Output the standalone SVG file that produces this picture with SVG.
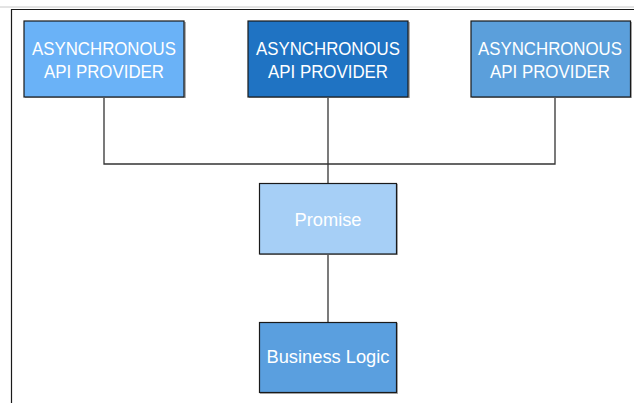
<svg xmlns="http://www.w3.org/2000/svg" width="634" height="403" viewBox="0 0 634 403">
<style>
.box{stroke:#1a1a1a;stroke-width:1.2}
.shadow{fill:#b0b0b0}
.t{font-family:"Liberation Sans",Arial,sans-serif;font-size:18px;fill:#ffffff;text-anchor:middle}
.c{stroke:#333333;stroke-width:1.3;fill:none}
</style>
<rect x="0" y="0" width="634" height="403" fill="#ffffff"/>
<line x1="0" y1="7" x2="634" y2="7" stroke="#c8c8c8" stroke-width="1"/>
<path d="M11.5 403 V9.5 H634" fill="none" stroke="#1a1a1a" stroke-width="1.2"/>
<g id="connectors">
<path class="c" d="M104 97 V164 H555 V97"/>
<path class="c" d="M328 97 V183"/>
<path class="c" d="M328 254 V322"/>
</g>
<g id="provider1">
<rect class="shadow" x="25" y="22" width="161" height="76"/>
<rect class="box" x="24" y="21" width="160" height="76" fill="#6AB2F7"/>
<text class="t" x="104" y="55" textLength="144" lengthAdjust="spacingAndGlyphs">ASYNCHRONOUS</text>
<text class="t" x="104" y="78" textLength="120" lengthAdjust="spacingAndGlyphs">API PROVIDER</text>
</g>
<g id="provider2">
<rect class="shadow" x="249" y="22" width="161" height="76"/>
<rect class="box" x="248" y="21" width="160" height="76" fill="#1F73C3"/>
<text class="t" x="328" y="55" textLength="144" lengthAdjust="spacingAndGlyphs">ASYNCHRONOUS</text>
<text class="t" x="328" y="78" textLength="120" lengthAdjust="spacingAndGlyphs">API PROVIDER</text>
</g>
<g id="provider3">
<rect class="shadow" x="472" y="22" width="160" height="76"/>
<rect class="box" x="471" y="21" width="159.5" height="76" fill="#5B9FDB"/>
<text class="t" x="550" y="55" textLength="144" lengthAdjust="spacingAndGlyphs">ASYNCHRONOUS</text>
<text class="t" x="550" y="78" textLength="120" lengthAdjust="spacingAndGlyphs">API PROVIDER</text>
</g>
<g id="promise">
<rect class="shadow" x="260" y="184" width="138" height="71"/>
<rect class="box" x="259.5" y="183.5" width="137" height="70.5" fill="#A6CFF6"/>
<text class="t" x="328" y="226" textLength="67" lengthAdjust="spacingAndGlyphs">Promise</text>
</g>
<g id="business">
<rect class="shadow" x="260" y="323" width="138" height="71"/>
<rect class="box" x="259.5" y="322.5" width="137" height="70" fill="#5A9FDF"/>
<text class="t" x="328" y="363" textLength="123" lengthAdjust="spacingAndGlyphs">Business Logic</text>
</g>
</svg>
